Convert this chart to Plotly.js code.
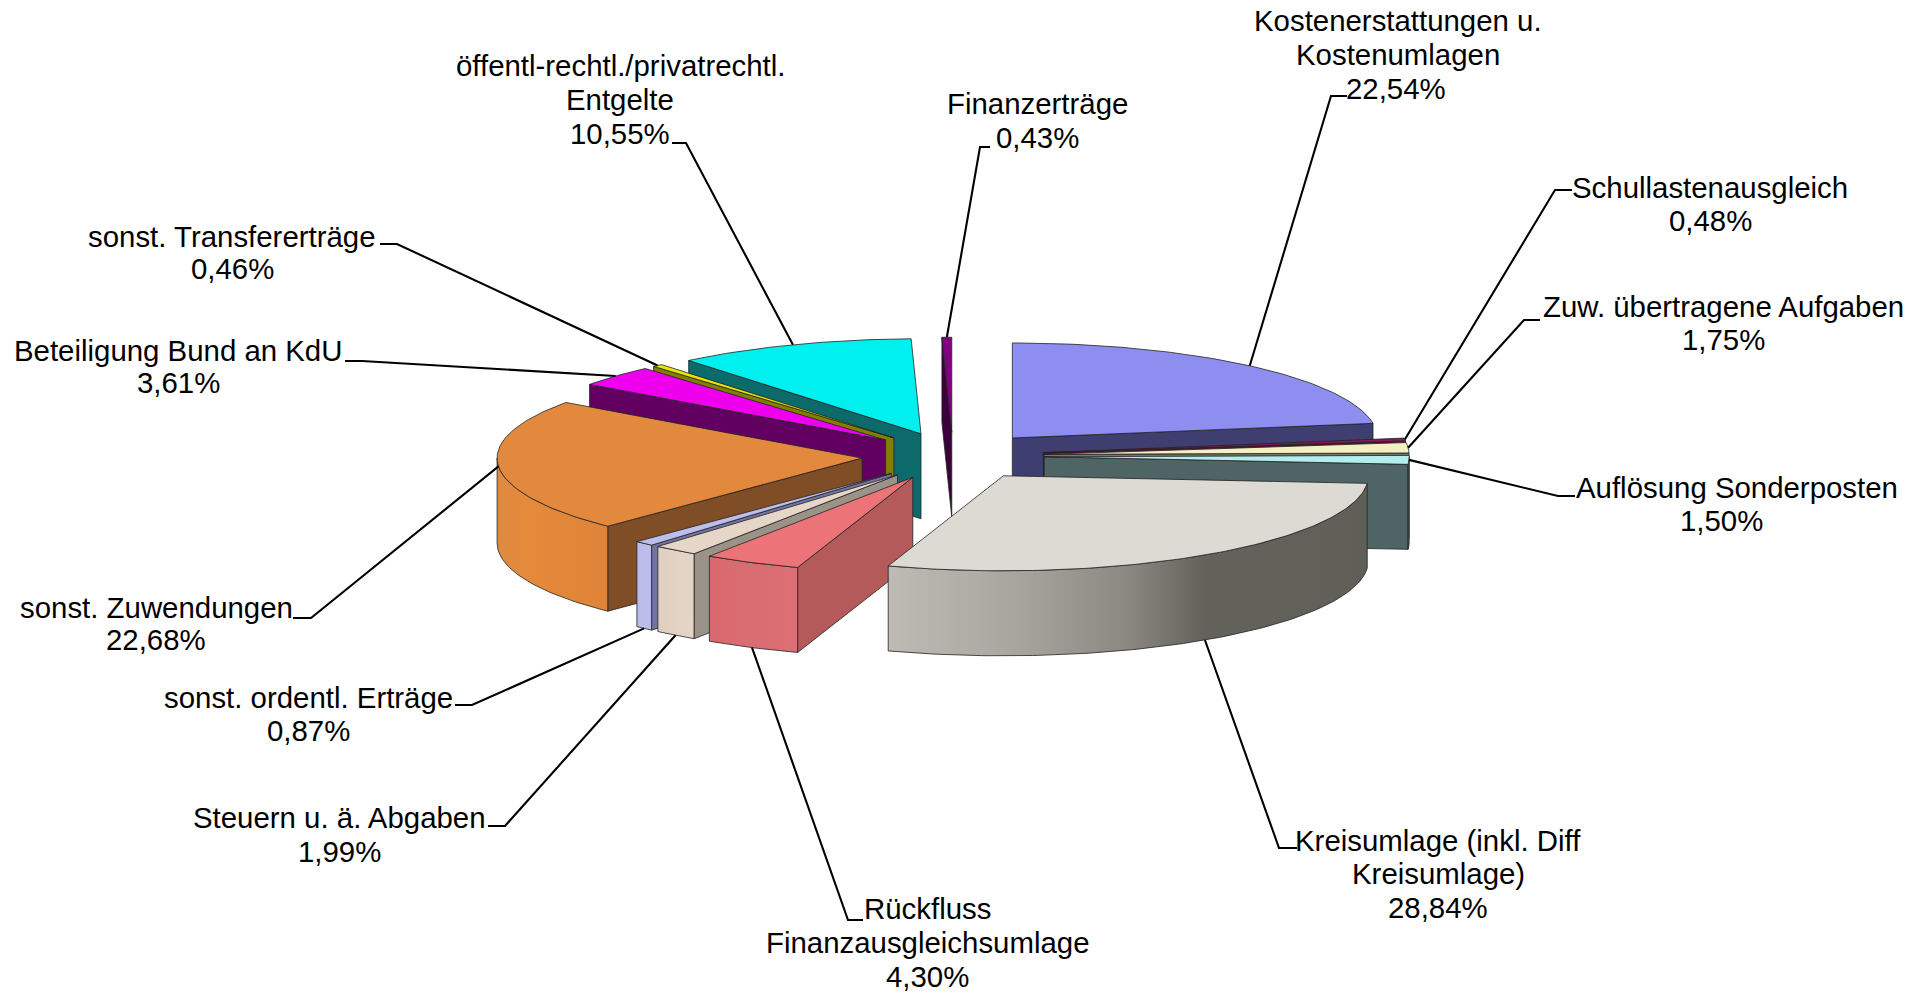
<!DOCTYPE html>
<html><head><meta charset="utf-8">
<script src="https://cdn.plot.ly/plotly-3.0.1.min.js"></script>
<style>html,body{margin:0;padding:0;background:#fff}#c{width:1927px;height:994px}</style>
</head><body><div id="c"></div>
<script>
// ---- data (clockwise from 12 o'clock) ----
const categories = [
  ["Kostenerstattungen u.","Kostenumlagen"],
  ["Schullastenausgleich"],
  ["Zuw. übertragene Aufgaben"],
  ["Auflösung Sonderposten"],
  ["Kreisumlage (inkl. Diff","Kreisumlage)"],
  ["Rückfluss","Finanzausgleichsumlage"],
  ["Steuern u. ä. Abgaben"],
  ["sonst. ordentl. Erträge"],
  ["sonst. Zuwendungen"],
  ["Beteiligung Bund an KdU"],
  ["sonst. Transfererträge"],
  ["öffentl-rechtl./privatrechtl.","Entgelte"],
  ["Finanzerträge"]
];
const shares = [22.54,0.48,1.75,1.50,28.84,4.30,1.99,0.87,22.68,3.61,0.46,10.55,0.43];

// ---- styles ----
const topColors  = ["#8E8EF0","#8A1A5A","#F3F0C2","#B2EEEE","#DCDAD2","#EC7377","#E6D6C8","#BEBEEC","#E3893E","#EE00EE","#E6E600","#00EFEF","#800080"];
const wallColors = ["#3E3E70","#5A1038","#7A7860","#4F6464","#6A6A62","#B55A5A","#9B9388","#71749E","#7F4E26","#620062","#7F7F00","#0C6A6A","#3A003A"];
const arcStops = {
  4:[[0,"#BDBBB3"],[0.25,"#A9A79F"],[0.5,"#8A8880"],[0.66,"#63635B"],[1,"#5F5F58"]],
  5:[[0,"#D86A6F"],[1,"#DC6F73"]],
  6:[[0,"#DFCFC1"],[1,"#E5D5C8"]],
  7:[[0,"#BBBBE8"],[1,"#BEBEEC"]],
  8:[[0,"#DD8A40"],[0.3,"#E58A3A"],[1,"#DE8338"]]
};
const paintOrder = [12,0,1,2,3,11,10,9,8,7,6,5,4];
const edgeColor = "rgba(35,35,35,0.8)";

// ---- pie geometry ----
const centerX = 953, centerY = 456, radiusX = 365, radiusY = 95, depth = 85, explode = 0.25;

// ---- label layout: centre x of each text line, y of each text line, leader elbow x/y, leader end x ----
const labelX = [[1398,1398,1396],[1710],[1723],[1737,1721],[1438,1438,1438],[927,927,927],[339],[308],[156],[178],[232],[620,620,620],[1037]];
const labelY = [[20,54,88],[187,220],[306,339],[487,520],[840,873,907],[908,942,976],[817,851],[697,730],[607,639],[350,382],[236,268],[65,99,133],[103,137]];
const elbowX = [1331,1555,1524,1558,1279,848,505,472,311,362,397,686,980];
const elbowY = [96,190,320,496,848,920,826,705,618,361,244,143,147];
const endX   = [1347,1572,1540,1575,1297,863,488,455,293,345,380,672,990];

const rad = d => d*Math.PI/180;
let cum = 0;
const total = shares.reduce((a,b)=>a+b,0);
const slices = shares.map(v=>{
  const s = cum/total*360; cum += v; const e = cum/total*360; const m=(s+e)/2;
  return {s,e,m,ax:centerX+explode*radiusX*Math.sin(rad(m)),ay:centerY-explode*radiusY*Math.cos(rad(m))};
});
const pt=(sl,a,dz=0)=>[sl.ax+radiusX*Math.sin(rad(a)), sl.ay-radiusY*Math.cos(rad(a))+dz];
function arc(sl,a,b,dz=0){
  const n=Math.max(2,Math.ceil(Math.abs(b-a)));const out=[];
  for(let i=0;i<=n;i++) out.push(pt(sl,a+(b-a)*i/n,dz));
  return out;
}
function poly(points,color,grad){
  const t={type:"scatter",mode:"lines",x:points.map(p=>p[0]).concat(points[0][0]),y:points.map(p=>p[1]).concat(points[0][1]),
    fill:"toself",fillcolor:color,line:{color:edgeColor,width:1},hoverinfo:"skip",showlegend:false};
  if(grad) t.fillgradient={type:"horizontal",colorscale:grad};
  return t;
}
const traces=[];
paintOrder.forEach(i=>{
  const sl=slices[i];
  // radial walls
  if(Math.sin(rad(sl.s))<-1e-6){
    const c=pt(sl,sl.s),c2=pt(sl,sl.s,depth);
    traces.push(poly([[sl.ax,sl.ay],c,c2,[sl.ax,sl.ay+depth]],wallColors[i]));
  }
  if(Math.sin(rad(sl.e))>1e-6){
    const c=pt(sl,sl.e),c2=pt(sl,sl.e,depth);
    traces.push(poly([[sl.ax,sl.ay],c,c2,[sl.ax,sl.ay+depth]],wallColors[i]));
  }
  // outer wall
  const a=Math.max(sl.s,90),b=Math.min(sl.e,270);
  if(b>a){
    const pts=arc(sl,a,b).concat(arc(sl,b,a,depth));
    traces.push(poly(pts,arcStops[i]?arcStops[i][0][1]:wallColors[i],arcStops[i]));
  }
  // top face
  traces.push(poly([[sl.ax,sl.ay]].concat(arc(sl,sl.s,sl.e)),topColors[i]));
});
// leaders
slices.forEach((sl,i)=>{
  const front=Math.cos(rad(sl.m))<-0.3;
  const p=pt(sl,sl.m,front?depth:0);
  traces.push({type:"scatter",mode:"lines",x:[p[0],elbowX[i],endX[i]],y:[p[1],elbowY[i],elbowY[i]],
    line:{color:"#000",width:2.1},hoverinfo:"skip",showlegend:false});
});
// labels
const annotations=[];
categories.forEach((lines,i)=>{
  const all=lines.concat(shares[i].toFixed(2).replace(".",",")+"%");
  all.forEach((t,j)=>annotations.push({x:labelX[i][Math.min(j,labelX[i].length-1)],y:labelY[i][j],xref:"x",yref:"y",text:t,showarrow:false,
    xanchor:"center",yanchor:"middle",font:{family:"Liberation Sans, Arial, sans-serif",size:29.4,color:"#000"}}));
});
Plotly.newPlot("c",traces,{
  width:1927,height:994,margin:{l:0,r:0,t:0,b:0},paper_bgcolor:"#fff",plot_bgcolor:"#fff",showlegend:false,
  xaxis:{range:[0,1927],visible:false,fixedrange:true},
  yaxis:{range:[994,0],visible:false,fixedrange:true},
  annotations
},{displayModeBar:false,staticPlot:true});
</script></body></html>
